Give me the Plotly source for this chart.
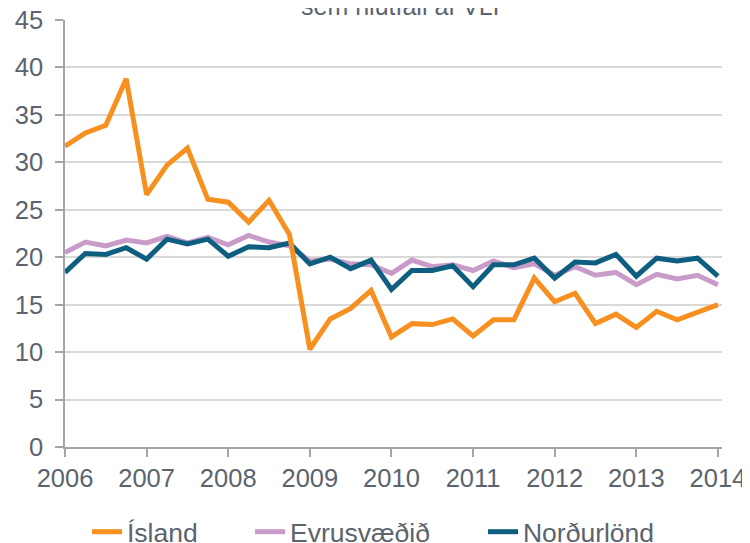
import plotly.graph_objects as go

# quarterly observations, 2006Q1 .. 2014Q1
start_year = 2006
quarters = 33
x_vals = [start_year + q * 0.25 for q in range(quarters)]

island = [31.7, 33.1, 33.9, 38.8,
          26.6, 29.7, 31.5, 26.1,
          25.8, 23.7, 26.0, 22.4,
          10.3, 13.5, 14.6, 16.5,
          11.6, 13.0, 12.9, 13.5,
          11.7, 13.4, 13.4, 17.8,
          15.3, 16.2, 13.0, 14.0,
          12.6, 14.3, 13.4, 14.2,
          15.0]

evrusvaedid = [20.5, 21.6, 21.2, 21.8,
               21.5, 22.2, 21.5, 22.1,
               21.3, 22.3, 21.6, 21.2,
               19.6, 19.8, 19.3, 19.2,
               18.3, 19.7, 19.0, 19.2,
               18.6, 19.6, 18.9, 19.3,
               18.1, 19.0, 18.1, 18.4,
               17.1, 18.2, 17.7, 18.1,
               17.1]

nordurlond = [18.4, 20.4, 20.3, 21.0,
              19.8, 21.9, 21.4, 21.9,
              20.1, 21.1, 21.0, 21.5,
              19.3, 20.0, 18.8, 19.7,
              16.6, 18.6, 18.6, 19.1,
              16.9, 19.2, 19.2, 19.9,
              17.8, 19.5, 19.4, 20.3,
              18.0, 19.9, 19.6, 19.9,
              18.0]

year_ticks = list(range(2006, 2015))
y_ticks = list(range(0, 50, 5))

TEXT = "#5b646e"
AXIS = "#a2a6ab"
FONT = "Liberation Sans, Arial, sans-serif"

fig = go.Figure()
# draw order: purple, blue, orange on top; each series has its own legend box
fig.add_scatter(x=x_vals, y=evrusvaedid, mode="lines", name="Evrusvæðið",
                line=dict(color="#C99BC9", width=5), legend="legend2")
fig.add_scatter(x=x_vals, y=nordurlond, mode="lines", name="Norðurlönd",
                line=dict(color="#0E5E80", width=5), legend="legend3")
fig.add_scatter(x=x_vals, y=island, mode="lines", name="Ísland",
                line=dict(color="#F7901E", width=5), legend="legend")

fig.update_xaxes(
    range=[2006, 2014.05], tickvals=year_ticks, ticktext=[str(y) for y in year_ticks],
    tickangle=0, automargin=False, ticklabeloverflow="allow",
    showgrid=False, showline=True, linecolor=AXIS, linewidth=1.5,
    ticks="outside", ticklen=8, tickwidth=1.5, tickcolor=AXIS,
    ticklabelstandoff=0, zeroline=False, tickfont=dict(size=25.5),
)
fig.update_yaxes(
    range=[0, 45], tickvals=y_ticks, automargin=False, ticklabeloverflow="allow",
    showgrid=True, gridcolor="#d9d9d9", gridwidth=1.5,
    showline=True, linecolor=AXIS, linewidth=1.5,
    ticks="outside", ticklen=8, tickwidth=1.5, tickcolor=AXIS,
    ticklabelstandoff=7, zeroline=False, tickfont=dict(size=25.5),
)

# partially visible heading at the very top
fig.add_annotation(text="sem hlutfall af VLF", xref="paper", yref="paper",
                   x=0.5175, y=1.0328, xanchor="center", yanchor="middle",
                   showarrow=False, font=dict(family=FONT, size=25, color=TEXT))

leg = dict(orientation="h", xanchor="left", y=-0.199, yanchor="middle",
           font=dict(size=26.5, color=TEXT), bgcolor="rgba(0,0,0,0)")

fig.update_layout(
    width=750, height=543,
    margin=dict(l=57, r=36, t=12, b=104, autoexpand=False),
    plot_bgcolor="white", paper_bgcolor="white",
    font=dict(family=FONT, size=25, color=TEXT),
    showlegend=True,
    legend=dict(leg, x=0.0335),
    legend2=dict(leg, x=0.2816),
    legend3=dict(leg, x=0.6362),
)

fig.write_html("out.html")
